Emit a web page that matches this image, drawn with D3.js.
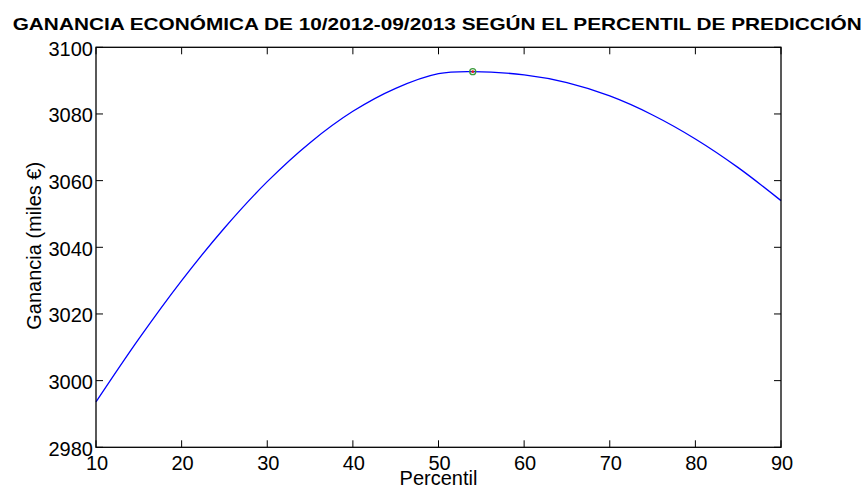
<!DOCTYPE html>
<html>
<head>
<meta charset="utf-8">
<script src="https://cdn.jsdelivr.net/npm/d3@7"></script>
<style>
  html, body { margin: 0; padding: 0; background: #fff; }
  svg { display: block; font-family: "Liberation Sans", Arial, Helvetica, sans-serif; }
</style>
</head>
<body>
<svg id="chart" width="867" height="491"></svg>
<script>
// ---- data ----
const percentiles = [10, 15, 20, 25, 30, 35, 40, 45, 50, 54, 60, 65, 70, 75, 80, 85, 90];
const ganancia    = [2993.6, 3012.5, 3030.0, 3045.8, 3059.7, 3071.4, 3080.8, 3087.7, 3092.1, 3092.7, 3091.7, 3089.4, 3085.4, 3079.7, 3072.5, 3063.9, 3054.0];
const bestPoint   = [54, 3092.7];
const xTicks = [10, 20, 30, 40, 50, 60, 70, 80, 90];
const yTicks = [2980, 3000, 3020, 3040, 3060, 3080, 3100];
const titleText = "GANANCIA ECONÓMICA DE 10/2012-09/2013 SEGÚN EL PERCENTIL DE PREDICCIÓN";
const xLabel = "Percentil";
const yLabel = "Ganancia (miles €)";

// ---- layout ----
const L = 96, R = 781, T = 47.3, B = 447.3;
const svg = d3.select("#chart");
const x = d3.scaleLinear().domain([10, 90]).range([L, R]);
const y = d3.scaleLinear().domain([2980, 3100]).range([B, T]);
const tickLen = 7;

const data = percentiles.map((p, i) => [p, ganancia[i]]);

// line
svg.append("path")
  .datum(data)
  .attr("fill", "none")
  .attr("stroke", "#0000ff")
  .attr("stroke-width", 1.3)
  .attr("d", d3.line().x(d => x(d[0])).y(d => y(d[1])).curve(d3.curveCatmullRom.alpha(0.5)));

// ticks (inward, all four sides)
const g = svg.append("g").attr("stroke", "#000").attr("stroke-width", 1);
xTicks.forEach(t => {
  g.append("line").attr("x1", x(t)).attr("x2", x(t)).attr("y1", B).attr("y2", B - tickLen);
  g.append("line").attr("x1", x(t)).attr("x2", x(t)).attr("y1", T).attr("y2", T + tickLen);
});
yTicks.forEach(t => {
  g.append("line").attr("x1", L).attr("x2", L + tickLen).attr("y1", y(t)).attr("y2", y(t));
  g.append("line").attr("x1", R).attr("x2", R - tickLen).attr("y1", y(t)).attr("y2", y(t));
});

// box
svg.append("rect")
  .attr("x", L).attr("y", T).attr("width", R - L).attr("height", B - T)
  .attr("fill", "none").attr("stroke", "#000").attr("stroke-width", 1.3);

// marker at maximum
svg.append("circle")
  .attr("cx", x(bestPoint[0])).attr("cy", y(bestPoint[1])).attr("r", 3)
  .attr("fill", "none").attr("stroke", "#3a9a3a").attr("stroke-width", 1.3);
svg.append("circle")
  .attr("cx", x(bestPoint[0])).attr("cy", y(bestPoint[1])).attr("r", 1.4)
  .attr("fill", "#e02020");

// tick labels
svg.append("g").selectAll("text").data(xTicks).join("text")
  .attr("x", d => x(d) + 1).attr("y", 470)
  .attr("text-anchor", "middle").attr("font-size", 20).attr("fill", "#000")
  .text(d => d);
svg.append("g").selectAll("text").data(yTicks).join("text")
  .attr("x", L - 3).attr("y", d => y(d) + 8.5)
  .attr("text-anchor", "end").attr("font-size", 20).attr("fill", "#000")
  .text(d => d);

// axis labels
svg.append("text")
  .attr("x", x(50)).attr("y", 485)
  .attr("text-anchor", "middle").attr("font-size", 20).attr("fill", "#000")
  .text(xLabel);
svg.append("text")
  .attr("transform", `translate(41,${(T + B) / 2 - 1.5}) rotate(-90)`)
  .attr("text-anchor", "middle").attr("font-size", 20).attr("fill", "#000")
  .text(yLabel);

// title
svg.append("text")
  .attr("x", 12.7).attr("y", 30)
  .attr("font-size", 17).attr("font-weight", "bold").attr("fill", "#000")
  .attr("textLength", 849).attr("lengthAdjust", "spacingAndGlyphs")
  .text(titleText);
</script>
</body>
</html>
